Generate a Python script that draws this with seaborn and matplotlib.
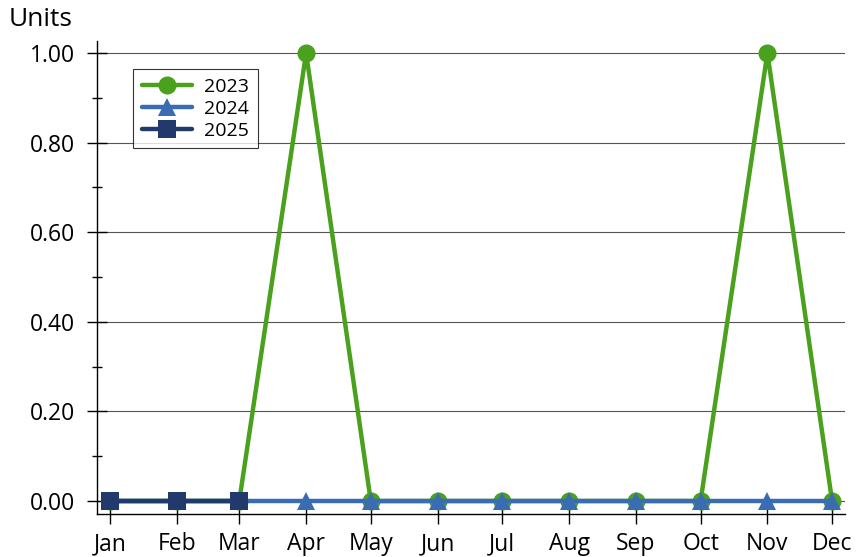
import matplotlib
matplotlib.use("Agg")
import matplotlib.pyplot as plt
import matplotlib.dates as mdates
import seaborn as sns
import pandas as pd
import numpy as np

months = ["Jan", "Feb", "Mar", "Apr", "May", "Jun", "Jul", "Aug", "Sep", "Oct", "Nov", "Dec"]
values_2023 = [0, 0, 0, 1, 0, 0, 0, 0, 0, 0, 1, 0]
values_2024 = [0, 0, 0, 0, 0, 0, 0, 0, 0, 0, 0, 0]
values_2025 = [0, 0, 0]
y_ticks = [0.0, 0.2, 0.4, 0.6, 0.8, 1.0]

series = [
    ("2023", values_2023, "#4AA11E", "o"),
    ("2024", values_2024, "#3A6CB4", "^"),
    ("2025", values_2025, "#213A6B", "s"),
]

sns.set_theme(style="white")
plt.rcParams["font.family"] = ["Open Sans", "DejaVu Sans"]
plt.rcParams["text.color"] = "black"

fig = plt.figure(figsize=(8.58, 5.57), dpi=100)
ax = fig.add_axes([97 / 858, 1 - 514 / 557, (845 - 97) / 858, (514 - 41) / 557])

for name, vals, color, marker in series:
    dates = pd.to_datetime([f"2000-{i + 1:02d}-01" for i in range(len(vals))])
    df = pd.DataFrame({"date": dates, "value": vals})
    sns.lineplot(data=df, x="date", y="value", ax=ax, color=color, marker=marker,
                 markersize=13, linewidth=3.2, markeredgewidth=0, label=name)

ax.set_xlim(pd.Timestamp("1999-12-26"), pd.Timestamp("2000-12-07"))
ax.set_ylim(-0.029, 1.027)
ax.xaxis.set_major_locator(mdates.MonthLocator())
ax.xaxis.set_major_formatter(mdates.DateFormatter("%b"))
ax.set_yticks(y_ticks)
ax.set_yticklabels([f"{v:.2f}" for v in y_ticks])
ax.set_yticks(np.arange(0.1, 1.0, 0.2), minor=True)
ax.set_xlabel("")
ax.set_ylabel("")

ax.grid(axis="y", which="major", color="#555555", linewidth=0.8)
ax.set_axisbelow(True)
for s in ["top", "right"]:
    ax.spines[s].set_visible(False)
for s in ["left", "bottom"]:
    ax.spines[s].set_color("black")
    ax.spines[s].set_linewidth(1.0)

ax.tick_params(axis="both", which="major", direction="inout", length=14, width=1,
               color="black", labelsize=16.5, labelcolor="black", left=True, bottom=True)
ax.tick_params(axis="y", which="minor", direction="inout", length=7, width=1,
               color="black", left=True)
ax.tick_params(axis="x", pad=6)
ax.tick_params(axis="y", pad=9)

for lbl in ax.get_xticklabels() + ax.get_yticklabels():
    lbl.set_fontweight("medium")

leg = ax.legend(loc="upper left", bbox_to_anchor=(36 / 748, 1 - 28 / 473), frameon=True,
                fancybox=False, edgecolor="black", handlelength=2.6,
                borderpad=0.45, labelspacing=0.2, handletextpad=0.6, borderaxespad=0,
                prop={"size": 14, "weight": "medium"})
leg.get_frame().set_linewidth(0.8)
for t in leg.get_texts():
    t.set_color("black")

fig.text(9 / 858, 1 - 19 / 557, "Units", fontsize=19, fontweight="medium", color="black",
         va="center", ha="left")

fig.savefig("out.png", dpi=100)
